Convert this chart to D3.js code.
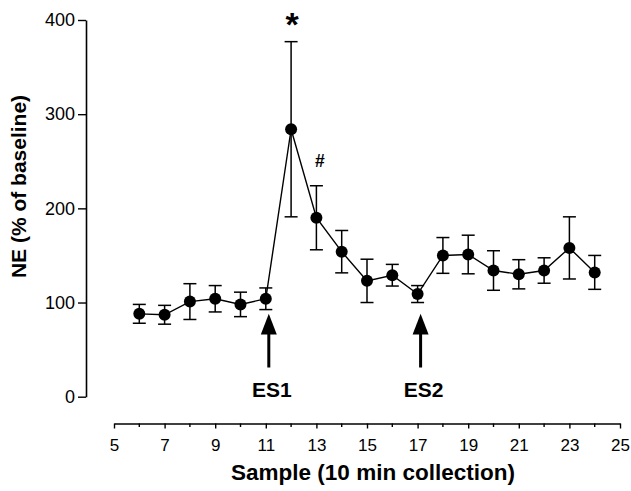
<!DOCTYPE html>
<html>
<head>
<meta charset="utf-8">
<script src="https://cdn.jsdelivr.net/npm/d3@7"></script>
<style>
  html, body { margin: 0; padding: 0; background: #fff; }
  svg { display: block; }
  text { font-family: "Liberation Sans", Arial, Helvetica, sans-serif; fill: #000; }
</style>
</head>
<body>
<svg id="chart" width="631" height="491"></svg>
<script>
// Sample number (10 min collections)
const samples = [6, 7, 8, 9, 10, 11, 12, 13, 14, 15, 16, 17, 18, 19, 20, 21, 22, 23, 24];
// NE, % of baseline (mean)
const means = [88, 87, 101, 104, 98, 104, 284, 190, 154, 123, 129, 109, 150, 151, 134, 130, 134, 158, 132];
// SEM
const sems = [10, 10, 19, 14, 13, 11.5, 93, 34, 22.5, 23, 11.5, 9, 19, 20.5, 21, 15.5, 13.5, 33, 18];

const xTicks = [5, 7, 9, 11, 13, 15, 17, 19, 21, 23, 25];
const xMinorTicks = [6, 8, 10, 12, 14, 16, 18, 20, 22, 24];
const yTicks = [0, 100, 200, 300, 400];

// Electrical stimulation events
const stimLabels = ["ES1", "ES2"];
const stimSamples = [11, 17];

// Significance marks
const markSamples = [12, 13];
const markSymbols = ["*", "#"];

const svg = d3.select("#chart");

const x = d3.scaleLinear().domain([5, 25]).range([114, 620]);
const y = d3.scaleLinear().domain([0, 400]).range([396.7, 20]);

// Y axis
const yAxis = svg.append("g")
  .attr("transform", "translate(86,0)")
  .call(d3.axisLeft(y).tickValues(yTicks).tickSize(8).tickPadding(3).tickSizeOuter(0));
yAxis.select(".domain").attr("stroke", "#000").attr("stroke-width", 1.6);
yAxis.selectAll(".tick line").attr("stroke", "#000").attr("stroke-width", 1.4);
yAxis.selectAll(".tick text").attr("font-size", 18).attr("font-family", "Liberation Sans, Arial, sans-serif");

// X axis (detached, below plot)
const xAxisY = 423.5;
const xAxis = svg.append("g")
  .attr("transform", `translate(0,${xAxisY})`)
  .call(d3.axisBottom(x).tickValues(xTicks).tickSize(5).tickPadding(10).tickSizeOuter(0));
xAxis.select(".domain").attr("stroke", "#000").attr("stroke-width", 1.6);
xAxis.selectAll(".tick line").attr("stroke", "#000").attr("stroke-width", 1.4);
xAxis.selectAll(".tick text").attr("font-size", 17).attr("font-family", "Liberation Sans, Arial, sans-serif");
xAxis.selectAll(".minor")
  .data(xMinorTicks)
  .enter().append("line")
  .attr("x1", d => x(d)).attr("x2", d => x(d))
  .attr("y1", 0).attr("y2", 3.5)
  .attr("stroke", "#000").attr("stroke-width", 1.4);

// Axis titles
svg.append("text")
  .attr("x", 373).attr("y", 480)
  .attr("text-anchor", "middle")
  .attr("font-size", 22.5).attr("font-weight", "bold")
  .text("Sample (10 min collection)");

svg.append("text")
  .attr("transform", "translate(26,186.5) rotate(-90)")
  .attr("text-anchor", "middle")
  .attr("font-size", 21).attr("font-weight", "bold")
  .text("NE (% of baseline)");

const data = samples.map((s, i) => ({ s, m: means[i], e: sems[i] }));

// Error bars
const eb = svg.append("g").attr("stroke", "#000").attr("stroke-width", 1.5);
eb.selectAll(".v").data(data).enter().append("line")
  .attr("x1", d => x(d.s)).attr("x2", d => x(d.s))
  .attr("y1", d => y(d.m + d.e)).attr("y2", d => y(d.m - d.e));
eb.selectAll(".t").data(data).enter().append("line")
  .attr("x1", d => x(d.s) - 6.5).attr("x2", d => x(d.s) + 6.5)
  .attr("y1", d => y(d.m + d.e)).attr("y2", d => y(d.m + d.e));
eb.selectAll(".b").data(data).enter().append("line")
  .attr("x1", d => x(d.s) - 6.5).attr("x2", d => x(d.s) + 6.5)
  .attr("y1", d => y(d.m - d.e)).attr("y2", d => y(d.m - d.e));

// Mean line
svg.append("path")
  .datum(data)
  .attr("fill", "none").attr("stroke", "#000").attr("stroke-width", 1.4)
  .attr("d", d3.line().x(d => x(d.s)).y(d => y(d.m)));

// Markers
svg.selectAll(".pt").data(data).enter().append("circle")
  .attr("cx", d => x(d.s)).attr("cy", d => y(d.m)).attr("r", 6)
  .attr("fill", "#000");

// Significance marks above error bars
markSamples.forEach((s, i) => {
  const d = data.find(v => v.s === s);
  const top = y(d.m + d.e);
  if (markSymbols[i] === "*") {
    svg.append("text")
      .attr("x", x(s) + 1).attr("y", top - 6)
      .attr("text-anchor", "middle")
      .attr("font-size", 34).attr("font-weight", "bold")
      .text(markSymbols[i]);
  } else {
    svg.append("text")
      .attr("x", x(s) + 3.5).attr("y", top - 18.5)
      .attr("text-anchor", "middle")
      .attr("font-size", 17.5).attr("font-weight", "bold")
      .text(markSymbols[i]);
  }
});

// Stimulation arrows and labels
const arrowTip = 88, arrowBase = 66, arrowEnd = 31;
stimSamples.forEach((s, i) => {
  const ax = x(s) + 3;
  svg.append("line")
    .attr("x1", ax).attr("x2", ax)
    .attr("y1", y(arrowBase) - 1).attr("y2", y(arrowEnd))
    .attr("stroke", "#000").attr("stroke-width", 3);
  svg.append("path")
    .attr("d", `M${ax},${y(arrowTip)} L${ax - 8},${y(arrowBase)} L${ax + 8},${y(arrowBase)} Z`)
    .attr("fill", "#000");
  svg.append("text")
    .attr("x", ax + 3).attr("y", y(0))
    .attr("text-anchor", "middle")
    .attr("font-size", 21).attr("font-weight", "bold")
    .text(stimLabels[i]);
});
</script>
</body>
</html>
